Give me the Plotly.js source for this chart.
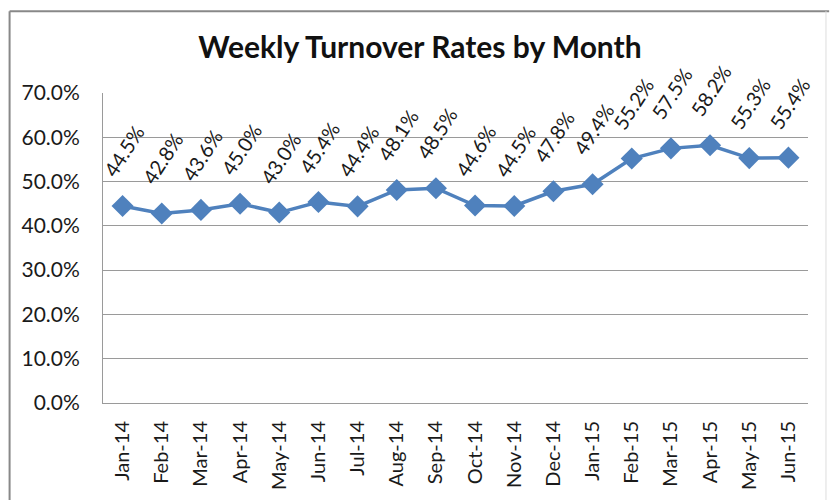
<!DOCTYPE html>
<html><head><meta charset="utf-8">
<script src="https://cdn.plot.ly/plotly-3.0.1.min.js"></script>
<style>body{margin:0;background:#fff}#c{width:830px;height:500px}</style>
</head><body><div id="c"></div>
<script>
const months = ["Jan-14","Feb-14","Mar-14","Apr-14","May-14","Jun-14","Jul-14","Aug-14","Sep-14","Oct-14","Nov-14","Dec-14","Jan-15","Feb-15","Mar-15","Apr-15","May-15","Jun-15"];
const rates = [0.445,0.428,0.436,0.450,0.430,0.454,0.444,0.481,0.485,0.446,0.445,0.478,0.494,0.552,0.575,0.582,0.553,0.554];
const yTicks = [0,0.1,0.2,0.3,0.4,0.5,0.6,0.7];

const font = "Lato, 'Open Sans', sans-serif";
const annotations = months.map((m,i)=>({
  x: m, y: rates[i], xref:'x', yref:'y',
  text: (rates[i]*100).toFixed(1)+'%',
  showarrow:false, textangle:-57, yshift:55, xshift:1,
  font:{family:font,size:20,color:'#1a1a1a'}
}));

const trace = {
  x: months, y: rates, type:'scatter', mode:'lines+markers',
  line:{color:'#4F81BD',width:3.5},
  marker:{symbol:'diamond',size:17,color:'#4F81BD'},
  hoverinfo:'none'
};

const layout = {
  width:830,height:500,
  margin:{l:103,r:22,t:93,b:97},
  paper_bgcolor:'#fff',plot_bgcolor:'#fff',
  showlegend:false,
  title:{text:'<b>Weekly Turnover Rates by Month</b>',x:0.506,xanchor:'center',y:0.906,yanchor:'middle',
    font:{family:font,size:30,color:'#111'}},
  xaxis:{type:'category',range:[-0.5,17.5],tickangle:-90,showgrid:false,showline:true,linecolor:'#9a9a9a',linewidth:1,
    ticks:'',tickfont:{family:font,size:20,color:'#1a1a1a'},ticklabelstandoff:9,fixedrange:true},
  yaxis:{range:[0,0.7],tickvals:yTicks,tickformat:'.1%',showgrid:true,gridcolor:'#9a9a9a',gridwidth:1,
    showline:true,linecolor:'#9a9a9a',zeroline:false,ticks:'',ticklen:0,tickfont:{family:font,size:21,color:'#1a1a1a'},
    ticklabelstandoff:18,fixedrange:true},
  annotations: annotations,
  shapes:[
    {type:'line',xref:'paper',yref:'paper',x0:-0.1325,x1:1.03,y0:1.264,y1:1.264,line:{color:'#888',width:2}},
    {type:'line',xref:'paper',yref:'paper',x0:-0.1325,x1:-0.1325,y0:1.264,y1:-0.4,line:{color:'#888',width:2}},
    {type:'line',xref:'paper',yref:'paper',x0:1.0255,x1:1.0255,y0:1.264,y1:-0.4,line:{color:'#ddd',width:1}}
  ]
};
Plotly.newPlot('c',[trace],layout,{displayModeBar:false,staticPlot:true});
</script></body></html>
